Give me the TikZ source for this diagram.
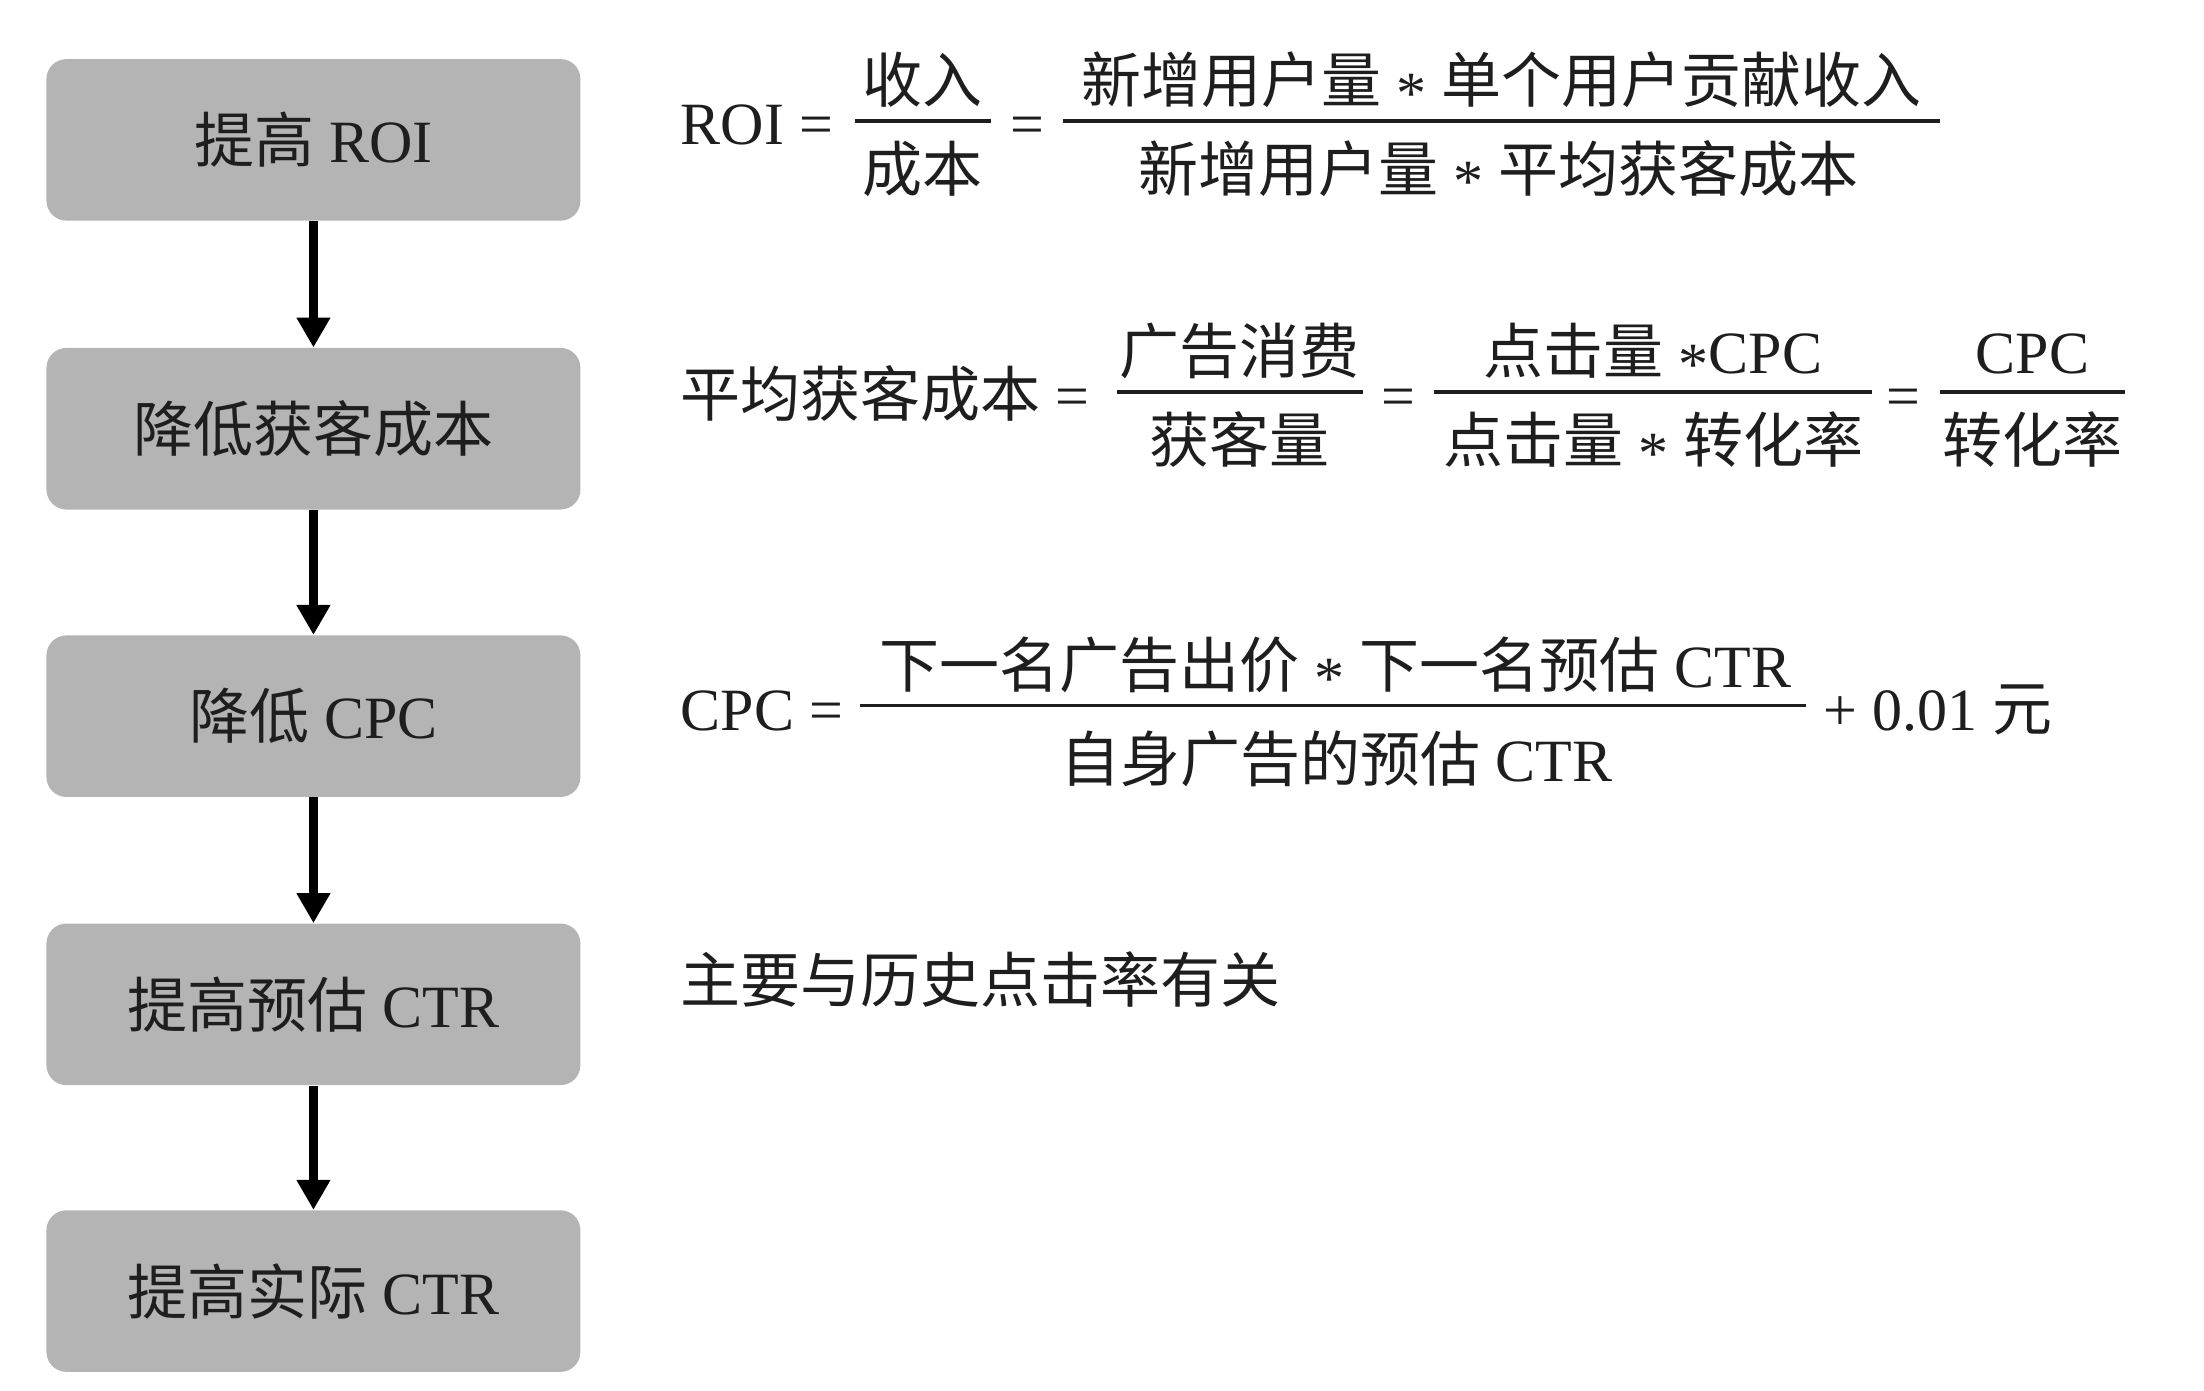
\documentclass[tikz,border=0pt]{standalone}
\usepackage{fontspec}
\setmainfont{Liberation Serif}
\newfontfamily\cjk{Noto Sans CJK SC}
\newcommand\zh[1]{{\cjk #1}}
\newcommand\starop{\raisebox{-0.18em}{*}}
\usetikzlibrary{arrows.meta}
\definecolor{boxgray}{RGB}{180,180,180}
\definecolor{ink}{RGB}{30,30,30}

\begin{document}
\begin{tikzpicture}[x=0.7028pt,y=-0.7028pt,
  every node/.style={font=\fontsize{30}{36}\selectfont, text=ink, inner sep=0pt},
  stepbox/.style={fill=boxgray, rounded corners=10pt, minimum width=267pt, minimum height=80.8pt},
  flow/.style={line width=4.2pt, draw=black, -{Triangle[width=16pt,length=15pt]}},
  bar/.style={line width=1.7pt, draw=ink},
  txt/.style={anchor=base west},
  ctr/.style={anchor=base}]
\useasboundingbox (0,0) rectangle (1568,989);

% chain of goals
\node[stepbox] (b1) at (223,99.5)  {\zh{提高} ROI};
\node[stepbox] (b2) at (223,305)   {\zh{降低获客成本}};
\node[stepbox] (b3) at (223,509.5) {\zh{降低} CPC};
\node[stepbox] (b4) at (223,714.5) {\zh{提高预估} CTR};
\node[stepbox] (b5) at (223,918.5) {\zh{提高实际} CTR};
\draw[flow] (b1.south) -- (b2.north);
\draw[flow] (b2.south) -- (b3.north);
\draw[flow] (b3.south) -- (b4.north);
\draw[flow] (b4.south) -- (b5.north);

% ROI
\node[txt] (roi) at (484,103) {ROI =};
\draw[bar] (608,86) -- (705,86);
\node[ctr] (roin) at (656,73)  {\zh{收入}};
\node[ctr] (roid) at (656,136) {\zh{成本}};
\node[ctr] (roieq) at (731,103) {=};
\draw[bar] (756,86) -- (1380,86);
\node[ctr] (roin2) at (1068,73)  {\zh{新增用户量} \starop{} \zh{单个用户贡献收入}};
\node[ctr] (roid2) at (1066,136) {\zh{新增用户量} \starop{} \zh{平均获客成本}};

% acquisition cost
\node[txt] (acq) at (484,296) {\zh{平均获客成本} =};
\draw[bar] (795,279) -- (970,279);
\node[ctr] (acqn1) at (882,266) {\zh{广告消费}};
\node[ctr] (acqd1) at (882,329) {\zh{获客量}};
\node[ctr] (acqeq1) at (995,296) {=};
\draw[bar] (1020,279) -- (1332,279);
\node[ctr] (acqn2) at (1176,266) {\zh{点击量} \starop{}CPC};
\node[ctr] (acqd2) at (1176,329) {\zh{点击量} \starop{} \zh{转化率}};
\node[ctr] (acqeq2) at (1354,296) {=};
\draw[bar] (1380,279) -- (1512,279);
\node[ctr] (acqn3) at (1446,266) {CPC};
\node[ctr] (acqd3) at (1446,329) {\zh{转化率}};

% CPC
\node[txt] (cpc) at (484,520) {CPC =};
\draw[bar] (612,502) -- (1285,502);
\node[ctr] (cpcn) at (950,489) {\zh{下一名广告出价} \starop{} \zh{下一名预估} CTR};
\node[ctr] (cpcd) at (951,556) {\zh{自身广告的预估} CTR};
\node[txt] (cpcplus) at (1297,520) {+ 0.01 \zh{元}};

% predicted CTR
\node[txt] (ctr) at (484,713) {\zh{主要与历史点击率有关}};
\end{tikzpicture}
\end{document}
